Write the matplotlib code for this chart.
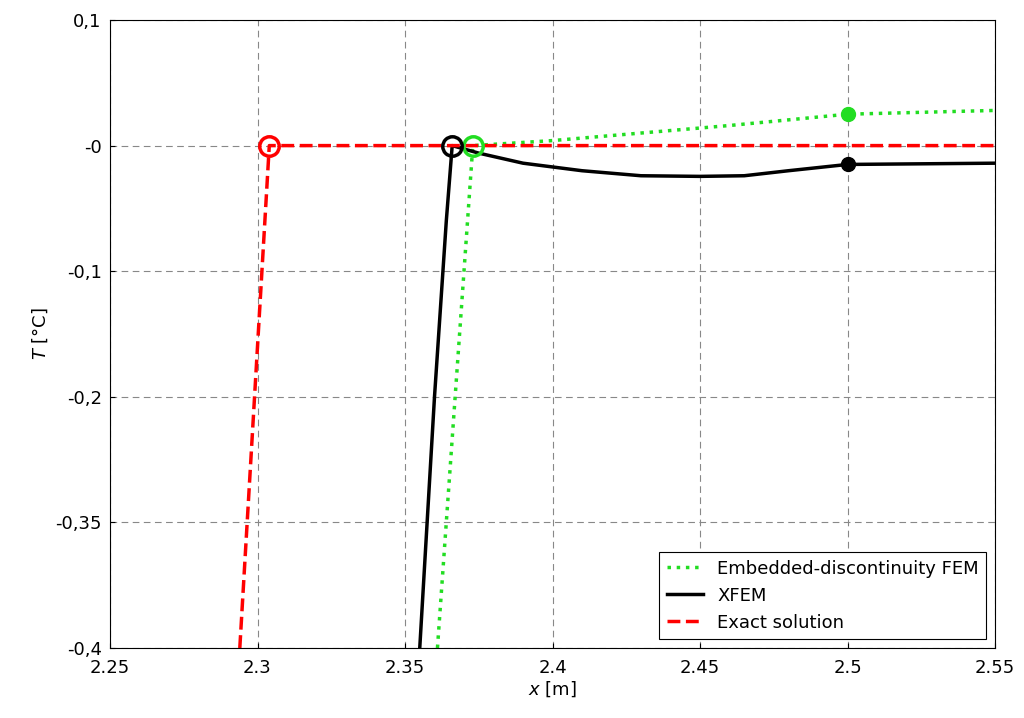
import matplotlib
matplotlib.use("Agg")
import matplotlib.pyplot as plt

# y is drawn in "tick units": the axis labels are evenly spaced but not linear
ytick_pos = [1, 0, -1, -2, -3, -4]
ytick_lab = ["0,1", "-0", "-0,1", "-0,2", "-0,35", "-0,4"]
xticks = [2.25, 2.3, 2.35, 2.4, 2.45, 2.5, 2.55]

exact_x = [2.294, 2.304, 2.55]
exact_y = [-4, 0, 0]

xfem_x = [2.355, 2.360, 2.364, 2.366, 2.375, 2.39, 2.41, 2.43, 2.45, 2.465, 2.48, 2.5, 2.55]
xfem_y = [-4, -2, -0.6, 0, -0.06, -0.14, -0.2, -0.24, -0.245, -0.24, -0.2, -0.15, -0.14]

emb_x = [2.361, 2.367, 2.373, 2.40, 2.43, 2.46, 2.5, 2.55]
emb_y = [-4, -2, 0, 0.04, 0.1, 0.16, 0.25, 0.28]

fig = plt.figure(figsize=(10.24, 7.18), dpi=100)
ax = fig.add_axes([110/1024, 70/718, 885/1024, 628/718])

ax.plot(emb_x, emb_y, color="#22dd22", ls=":", lw=2.5, label="Embedded-discontinuity FEM")
ax.plot(xfem_x, xfem_y, color="black", lw=2.5, label="XFEM")
ax.plot(exact_x, exact_y, color="red", ls="--", lw=2.5, label="Exact solution")

ax.plot(emb_x[2], emb_y[2], "o", mfc="none", mec="#22dd22", ms=14, mew=2.5)
ax.plot(xfem_x[3], xfem_y[3], "o", mfc="none", mec="black", ms=14, mew=2.5)
ax.plot(exact_x[1], exact_y[1], "o", mfc="none", mec="red", ms=14, mew=2.5)
ax.plot(2.5, 0.25, "o", color="#22dd22", ms=10)
ax.plot(2.5, -0.15, "o", color="black", ms=10)

ax.set_xlim(2.25, 2.55)
ax.set_ylim(-4, 1)
ax.set_xticks(xticks)
ax.set_xticklabels([f"{v:g}" for v in xticks])
ax.set_yticks(ytick_pos)
ax.set_yticklabels(ytick_lab)
ax.tick_params(labelsize=13, direction="in")
ax.tick_params(axis="x", pad=8)
ax.tick_params(axis="y", pad=6)
ax.grid(True, ls=(0, (6, 4)), color="#888888", lw=0.8)
ax.set_xlabel(r"$x$ [m]", fontsize=13, labelpad=2)
ax.set_ylabel(r"$T$ [°C]", fontsize=13)
leg = ax.legend(loc="lower right", fontsize=13, fancybox=False, framealpha=1, edgecolor="black")
leg.get_frame().set_linewidth(0.8)

fig.savefig("out.png", dpi=100)
